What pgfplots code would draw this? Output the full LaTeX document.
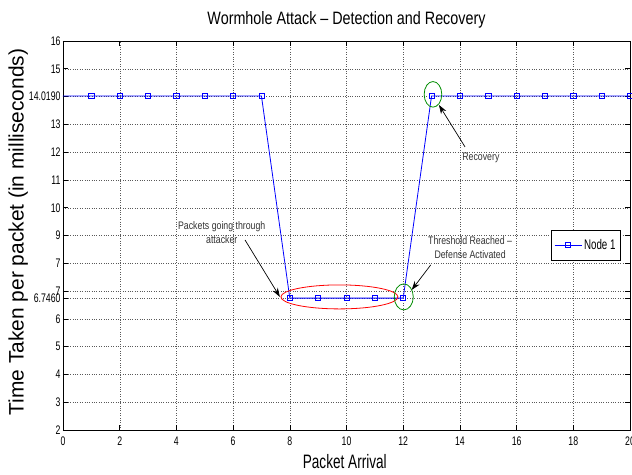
\documentclass[border=0pt]{standalone}
\usepackage{fontspec}
\setmainfont{Liberation Sans}
\newfontfamily\narrow[FakeStretch=0.7]{Liberation Sans}
\newfontfamily\semi[FakeStretch=0.8]{Liberation Sans}
\usepackage{pgfplots}
\pgfplotsset{compat=1.18}
\usetikzlibrary{arrows.meta}

\begin{document}
\begin{tikzpicture}
\useasboundingbox (-63bp,-45bp) rectangle (569bp,430bp);
\begin{axis}[
  at={(0,0)}, anchor=south west,
  scale only axis, width=567bp, height=389bp,
  xmin=0, xmax=20, ymin=2, ymax=16,
  xtick={0,2,...,20},
  ytick={2,3,4,5,6,6.746,7,8,9,10,11,12,13,14.019,15,16},
  yticklabels={2,3,4,5,6,\raisebox{-3bp}{6.7460},7,7,9,10,11,12,13,14.0190,15,16},
  /pgf/number format/assume math mode=true,
  tick label style={font=\narrow\fontsize{12.5}{12.5}\selectfont},
  xticklabel style={yshift=-3bp},
  yticklabel style={xshift=1bp},
  grid=major, grid style={dotted, black!65},
  tick align=inside, major tick length=5bp,
  axis line style={line width=0.9pt},
  every tick/.style={black, line width=0.6pt},
  title={Wormhole Attack – Detection and Recovery},
  title style={at={(0.5,1.04)}, anchor=center, font=\semi\fontsize{18}{18}\selectfont},
  xlabel={Packet Arrival},
  xlabel style={at={(0.497,-0.082)}, anchor=center, font=\narrow\fontsize{19.5}{19.5}\selectfont},
  ylabel={Time Taken per packet (in milliseconds)},
  ylabel style={at={(-0.079,0.509)}, anchor=center, font=\fontsize{21}{21}\selectfont},
  legend style={at={(0.984,0.514)}, anchor=north east, draw=black, line width=0.8pt,
    font=\narrow\fontsize{14}{14}\selectfont, inner xsep=3bp, inner ysep=7bp},
  legend image code/.code={\draw[mark repeat=2,mark phase=2] plot coordinates {(0bp,0bp)(13.5bp,0bp)(27bp,0bp)};},
]
\addplot[blue, line width=0.8pt, mark=square, mark size=2.6bp, mark phase=2, mark repeat=1,
  mark options={line width=0.7pt}] coordinates {
  (0,14.019)(1,14.019)(2,14.019)(3,14.019)(4,14.019)(5,14.019)(6,14.019)(7,14.019)
  (8,6.746)(9,6.746)(10,6.746)(11,6.746)(12,6.746)
  (13,14.019)(14,14.019)(15,14.019)(16,14.019)(17,14.019)(18,14.019)(19,14.019)(20,14.019)};
\addlegendentry{Node 1\hspace{16bp}}

% annotations
\draw[red, line width=0.8pt] (axis cs:9.75,6.79) ellipse [x radius=58.5bp, y radius=12bp];
\draw[green!55!black, line width=0.8pt] (axis cs:12.02,6.79) ellipse [x radius=9.5bp, y radius=13bp];
\draw[green!55!black, line width=0.8pt] (axis cs:13.05,14.08) ellipse [x radius=8.8bp, y radius=12.8bp];

\node[align=center, font=\semi\fontsize{11}{14}\selectfont, text=black!80] at (axis cs:5.6,9.1)
  {Packets going through\\attacker};
\draw[-{Stealth[length=9bp,width=6bp]}, line width=0.7pt] (axis cs:6.42,8.84) -- (axis cs:7.65,6.79);

\node[align=center, font=\semi\fontsize{11}{14}\selectfont, text=black!80] at (axis cs:14.36,8.57)
  {Threshold Reached –\\Defense Activated};
\draw[-{Stealth[length=9bp,width=6bp]}, line width=0.7pt] (axis cs:12.97,7.94) -- (axis cs:12.30,7.04);

\node[font=\semi\fontsize{11}{14}\selectfont, text=black!80] at (axis cs:14.74,11.79) {Recovery};
\draw[-{Stealth[length=9bp,width=6bp]}, line width=0.7pt] (axis cs:14.18,12.19) -- (axis cs:13.26,13.70);
\end{axis}
\end{tikzpicture}
\end{document}
